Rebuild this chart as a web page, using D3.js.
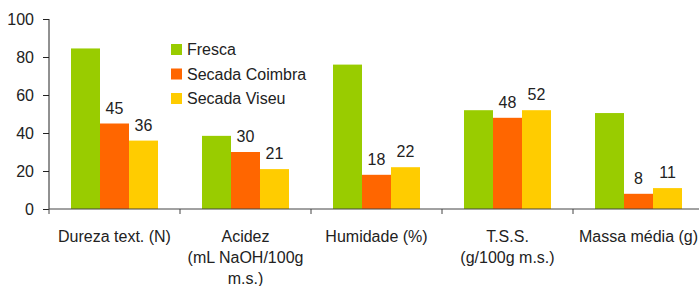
<!DOCTYPE html>
<html>
<head>
<meta charset="utf-8">
<script src="https://cdn.jsdelivr.net/npm/d3@7"></script>
<style>
  body { margin: 0; background: #fff; }
  svg { display: block; font-family: "Liberation Sans", Arial, sans-serif; }
</style>
</head>
<body>
<svg id="canvas"></svg>
<script>
// chart values
let categories = [
  ["Dureza text. (N)"],
  ["Acidez", "(mL NaOH/100g", "m.s.)"],
  ["Humidade (%)"],
  ["T.S.S.", "(g/100g m.s.)"],
  ["Massa média (g)"]
]
let seriesNames = ["Fresca", "Secada Coimbra", "Secada Viseu"]
let fresca = [84.5, 38.5, 76, 52, 50.5]
let coimbra = [45, 30, 18, 48, 8]
let viseu = [36, 21, 22, 52, 11]
let yTicks = [0, 20, 40, 60, 80, 100]

let colors = ["#99cc00", "#ff6600", "#ffcc00"]
let series = [fresca, coimbra, viseu]

let width = 699
let height = 286

let canvas = d3.select("#canvas")
               .attr("width", width)
               .attr("height", height)

let x = d3.scaleBand()
          .domain(d3.range(categories.length))
          .range([49, 704])
          .padding(0)

let inner = d3.scaleBand()
              .domain(d3.range(series.length))
              .range([22, 109])

let y = d3.scaleLinear()
          .domain([0, 100])
          .range([209, 19])

// bars
series.forEach((vals, s) => {
  canvas.append("g")
        .selectAll("rect")
        .data(vals)
        .enter()
        .append("rect")
        .attr("x", (d, i) => x(i) + inner(s))
        .attr("width", inner.bandwidth())
        .attr("y", d => y(d))
        .attr("height", d => y(0) - y(d))
        .attr("fill", colors[s])

  // only the dried samples carry value labels
  if (s > 0) {
    canvas.append("g")
          .selectAll("text")
          .data(vals)
          .enter()
          .append("text")
          .attr("x", (d, i) => x(i) + inner(s) + inner.bandwidth() / 2)
          .attr("y", d => y(d) - 10)
          .attr("text-anchor", "middle")
          .attr("font-size", 16)
          .attr("fill", "#222")
          .text(d => d)
  }
})

// y axis
let yAxis = canvas.append("g")
                  .attr("transform", "translate(49,0)")
                  .call(d3.axisLeft(y).tickValues(yTicks).tickSize(6).tickPadding(9))
yAxis.selectAll("text").attr("font-size", 16).attr("fill", "#222").attr("font-family", "Liberation Sans, Arial, sans-serif")
yAxis.selectAll("line, path").attr("stroke", "#222")
yAxis.select(".domain").attr("d", "M0,19V209")

// x axis: ticks sit on the band boundaries
let xAxis = canvas.append("g")
xAxis.append("line")
     .attr("x1", 49).attr("x2", 704)
     .attr("y1", y(0)).attr("y2", y(0))
     .attr("stroke", "#444")
xAxis.selectAll(".tick")
     .data(d3.range(categories.length))
     .enter()
     .append("line")
     .attr("x1", i => x(i)).attr("x2", i => x(i))
     .attr("y1", y(0)).attr("y2", y(0) + 5)
     .attr("stroke", "#444")

// category labels
canvas.append("g")
      .selectAll("text")
      .data(categories)
      .enter()
      .append("text")
      .attr("text-anchor", "middle")
      .attr("font-size", 16)
      .attr("fill", "#222")
      .each(function (lines, i) {
        d3.select(this).selectAll("tspan")
          .data(lines)
          .enter()
          .append("tspan")
          .attr("x", x(i) + x.bandwidth() / 2)
          .attr("y", (d, k) => 241.5 + k * 21)
          .text(d => d)
      })

// legend
let legend = canvas.append("g")
seriesNames.forEach((name, s) => {
  legend.append("rect")
        .attr("x", 171)
        .attr("y", 44 + s * 24.5)
        .attr("width", 11)
        .attr("height", 11)
        .attr("fill", colors[s])
  legend.append("text")
        .attr("x", 187)
        .attr("y", 55 + s * 24.5)
        .attr("font-size", 16)
        .attr("fill", "#222")
        .text(name)
})
</script>
</body>
</html>
